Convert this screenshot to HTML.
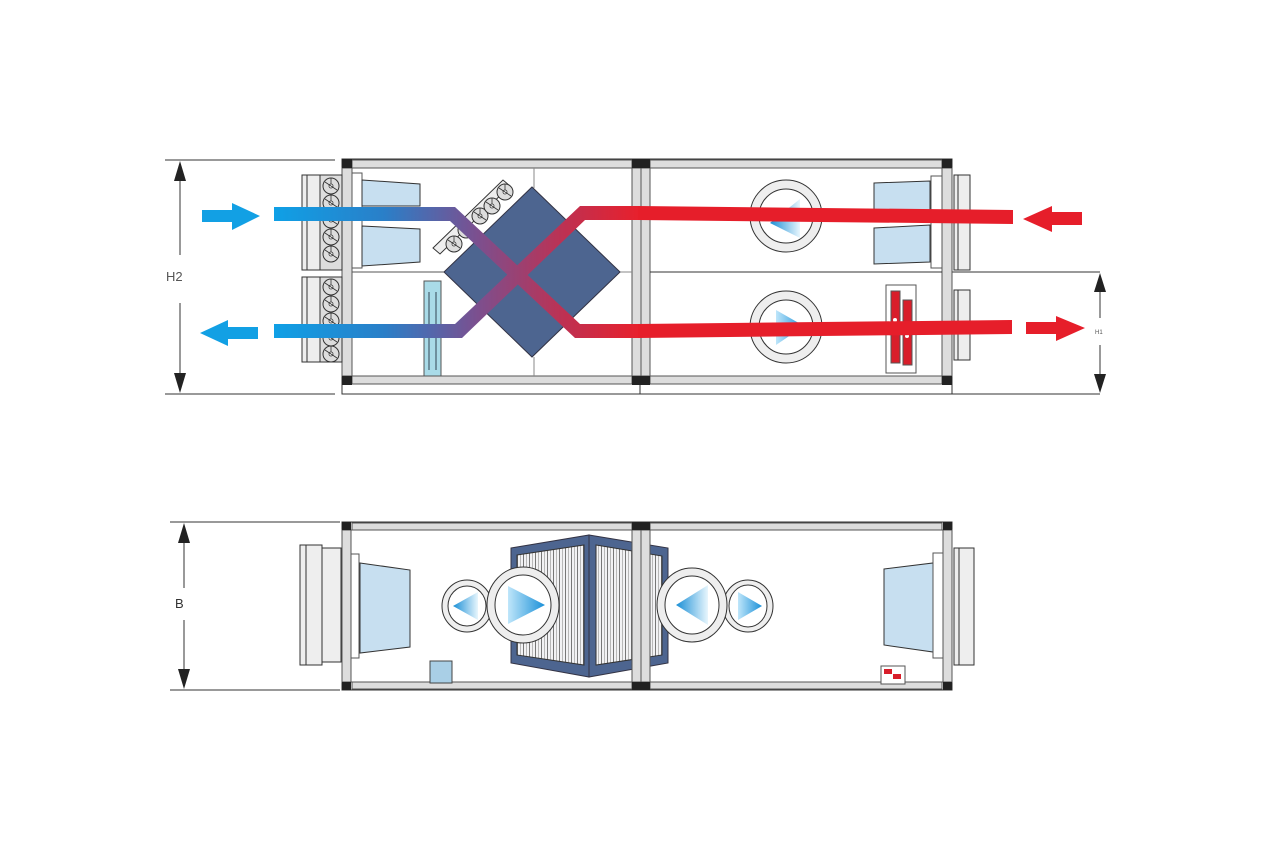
<!DOCTYPE html>
<html><head><meta charset="utf-8"><style>
html,body{margin:0;padding:0;background:#fff}
svg{display:block}
text{font-family:"Liberation Sans",sans-serif}
</style></head><body>
<svg width="1280" height="854" viewBox="0 0 1280 854" xmlns="http://www.w3.org/2000/svg">
<defs>
<linearGradient id="flow" x1="274" y1="0" x2="640" y2="0" gradientUnits="userSpaceOnUse">
<stop offset="0" stop-color="#0fa0e6"/><stop offset="0.3" stop-color="#2a7fc8"/>
<stop offset="0.55" stop-color="#7a5090"/><stop offset="0.8" stop-color="#c03050"/>
<stop offset="1" stop-color="#e8202c"/></linearGradient>
<linearGradient id="triR" x1="0" y1="0" x2="1" y2="0"><stop offset="0" stop-color="#bfe6fa"/><stop offset="1" stop-color="#1a90d8"/></linearGradient>
<linearGradient id="triL" x1="1" y1="0" x2="0" y2="0"><stop offset="0" stop-color="#e8f6fd"/><stop offset="1" stop-color="#1a8fd6"/></linearGradient>
<pattern id="stripes" width="6" height="10" patternUnits="userSpaceOnUse"><rect width="6" height="10" fill="#f2f2f4"/><rect x="1" width="1" height="10" fill="#777"/><rect x="4" width="0.8" height="10" fill="#aaa"/></pattern>
<g id="disc"><circle r="8" fill="#ddd" stroke="#333" stroke-width="1"/><circle r="2" fill="#fff" stroke="#333" stroke-width="0.8"/><path d="M-6,-4 L6,4 M0,-8 L0,-2" stroke="#333" stroke-width="0.8"/></g>
</defs>

<!-- ========== TOP UNIT ========== -->
<g stroke="#333" stroke-width="1">
<!-- dims H2 -->
<line x1="165" y1="160" x2="335" y2="160"/><line x1="165" y1="394" x2="335" y2="394"/>
<line x1="180" y1="180" x2="180" y2="255"/><line x1="180" y1="303" x2="180" y2="375"/>
<!-- dims H1 -->
<line x1="952" y1="272" x2="1100" y2="272"/><line x1="952" y1="394" x2="1100" y2="394"/>
<line x1="1100" y1="290" x2="1100" y2="318"/><line x1="1100" y1="345" x2="1100" y2="375"/>
</g>
<polygon points="180,161 174,181 186,181" fill="#222"/>
<polygon points="180,393 174,373 186,373" fill="#222"/>
<polygon points="1100,273 1094,292 1106,292" fill="#222"/>
<polygon points="1100,393 1094,374 1106,374" fill="#222"/>
<text x="166" y="281" font-size="13" fill="#555">H2</text>
<text x="1095" y="334" font-size="6" fill="#555">H1</text>

<!-- frame -->
<rect x="342" y="159" width="610" height="227" fill="#fff" stroke="#333"/>
<rect x="342" y="384" width="610" height="10" fill="#fff" stroke="#333"/>
<line x1="640" y1="384" x2="640" y2="394" stroke="#333"/>
<rect x="352" y="160" width="280" height="8" fill="#ddd" stroke="#555"/>
<rect x="650" y="160" width="292" height="8" fill="#ddd" stroke="#555"/>
<rect x="352" y="376" width="280" height="8" fill="#ddd" stroke="#555"/>
<rect x="650" y="376" width="292" height="8" fill="#ddd" stroke="#555"/>
<rect x="342" y="168" width="10" height="208" fill="#ddd" stroke="#555"/>
<rect x="942" y="168" width="10" height="208" fill="#ddd" stroke="#555"/>
<rect x="632" y="168" width="18" height="208" fill="#ddd" stroke="#555"/>
<line x1="641" y1="168" x2="641" y2="376" stroke="#555"/>
<line x1="352" y1="272" x2="632" y2="272" stroke="#555"/>
<line x1="650" y1="272" x2="942" y2="272" stroke="#333"/>
<line x1="534" y1="168" x2="534" y2="188" stroke="#888"/>
<line x1="534" y1="357" x2="534" y2="376" stroke="#888"/>
<line x1="620" y1="272" x2="632" y2="272" stroke="#888"/>
<g fill="#222">
<rect x="342" y="159" width="10" height="9"/><rect x="632" y="159" width="18" height="9"/><rect x="942" y="159" width="10" height="9"/>
<rect x="342" y="376" width="10" height="9"/><rect x="632" y="376" width="18" height="9"/><rect x="942" y="376" width="10" height="9"/>
</g>

<!-- left ducts -->
<g stroke="#333" fill="#eee">
<rect x="302" y="175" width="18" height="95"/><line x1="307" y1="175" x2="307" y2="270"/>
<rect x="302" y="277" width="18" height="85"/><line x1="307" y1="277" x2="307" y2="362"/>
<rect x="320" y="175" width="22" height="95" fill="#ddd"/>
<rect x="320" y="277" width="22" height="85" fill="#ddd"/>
</g>
<g transform="translate(331,0)">
<use href="#disc" y="186"/><use href="#disc" y="203"/><use href="#disc" y="220"/><use href="#disc" y="237"/><use href="#disc" y="254"/>
<use href="#disc" y="287"/><use href="#disc" y="304"/><use href="#disc" y="321"/><use href="#disc" y="338"/><use href="#disc" y="354"/>
</g>
<!-- left flange & filters -->
<rect x="352" y="173" width="10" height="95" fill="#fff" stroke="#555"/>
<polygon points="362,180 420,184 420,206 362,206" fill="#c7dff0" stroke="#333"/>
<polygon points="362,226 420,229 420,262 362,266" fill="#c7dff0" stroke="#333"/>
<rect x="424" y="281" width="17" height="95" fill="#a9dbe8" stroke="#555"/>
<line x1="429" y1="292" x2="429" y2="370" stroke="#345"/><line x1="436" y1="292" x2="436" y2="370" stroke="#345"/>

<!-- diamond -->
<polygon points="532,187 620,272 532,357 444,272" fill="#4d6590" stroke="#334"/>
<!-- filter bank -->
<polygon points="433,248 503,180 510,186 440,254" fill="#eee" stroke="#333"/>
<g transform="translate(0,0)">
<use href="#disc" x="454" y="244"/><use href="#disc" x="466" y="230"/><use href="#disc" x="480" y="216"/><use href="#disc" x="492" y="206"/><use href="#disc" x="505" y="192"/>
</g>

<!-- right filters/ducts -->
<polygon points="874,183 930,181 930,210 874,210" fill="#c7dff0" stroke="#333"/>
<polygon points="874,228 930,225 930,262 874,264" fill="#c7dff0" stroke="#333"/>
<rect x="931" y="176" width="11" height="92" fill="#fff" stroke="#555"/>
<rect x="954" y="175" width="16" height="95" fill="#eee" stroke="#333"/><line x1="958" y1="175" x2="958" y2="270" stroke="#333"/>
<rect x="954" y="290" width="16" height="70" fill="#eee" stroke="#333"/><line x1="958" y1="290" x2="958" y2="360" stroke="#333"/>

<!-- fans top -->
<g stroke="#333">
<circle cx="786" cy="216" r="36" fill="#eee"/><circle cx="786" cy="216" r="27" fill="#fff"/>
<circle cx="786" cy="327" r="36" fill="#eee"/><circle cx="786" cy="327" r="27" fill="#fff"/>
</g>
<polygon points="770,223 800,199 800,238" fill="url(#triL)"/>
<polygon points="776,310 776,345 804,326" fill="url(#triR)"/>
<!-- damper -->
<rect x="886" y="285" width="30" height="88" fill="#fff" stroke="#555"/>
<rect x="891" y="291" width="9" height="72" fill="#d81e2a" stroke="#555"/>
<rect x="903" y="300" width="9" height="65" fill="#d81e2a" stroke="#555"/>
<circle cx="895" cy="320" r="2" fill="#fff"/><circle cx="907" cy="336" r="2" fill="#fff"/>

<!-- flows -->
<path d="M274,207 L455,207 L580,324 L640,324 L640,338 L575,338 L450,221 L274,221 Z" fill="url(#flow)"/>
<path d="M274,324 L455,324 L580,206 L640,206 L640,220 L585,220 L462,338 L274,338 Z" fill="url(#flow)"/>
<polygon points="638,206 1013,210 1013,224 638,220" fill="#e61e2a"/>
<polygon points="638,324 1012,320 1012,334 638,338" fill="#e61e2a"/>
<!-- outside arrows -->
<polygon points="202,210 232,210 232,203 260,216 232,230 232,222 202,222" fill="#12a0e4"/>
<polygon points="258,327 228,327 228,320 200,333 228,346 228,339 258,339" fill="#12a0e4"/>
<polygon points="1082,212 1052,212 1052,206 1023,219 1052,232 1052,225 1082,225" fill="#e61e2a"/>
<polygon points="1026,322 1056,322 1056,316 1085,328 1056,341 1056,334 1026,334" fill="#e61e2a"/>

<!-- ========== BOTTOM UNIT ========== -->
<g stroke="#333">
<line x1="170" y1="522" x2="340" y2="522"/><line x1="170" y1="690" x2="340" y2="690"/>
<line x1="184" y1="540" x2="184" y2="588"/><line x1="184" y1="620" x2="184" y2="672"/>
</g>
<polygon points="184,523 178,543 190,543" fill="#222"/>
<polygon points="184,689 178,669 190,669" fill="#222"/>
<text x="175" y="608" font-size="13" fill="#333">B</text>

<rect x="342" y="522" width="610" height="168" fill="#fff" stroke="#333"/>
<rect x="352" y="523" width="280" height="7" fill="#ddd" stroke="#555"/>
<rect x="650" y="523" width="292" height="7" fill="#ddd" stroke="#555"/>
<rect x="352" y="682" width="280" height="7" fill="#ddd" stroke="#555"/>
<rect x="650" y="682" width="292" height="7" fill="#ddd" stroke="#555"/>
<rect x="342" y="530" width="9" height="152" fill="#ddd" stroke="#555"/>
<rect x="943" y="530" width="9" height="152" fill="#ddd" stroke="#555"/>

<!-- left duct -->
<rect x="300" y="545" width="22" height="120" fill="#eee" stroke="#333"/><line x1="306" y1="545" x2="306" y2="665" stroke="#333"/>
<rect x="322" y="548" width="19" height="114" fill="#eee" stroke="#333"/>
<rect x="351" y="554" width="8" height="104" fill="#fff" stroke="#555"/>
<polygon points="360,563 410,570 410,647 360,653" fill="#c7dff0" stroke="#333"/>
<rect x="430" y="661" width="22" height="22" fill="#a9cfe6" stroke="#444"/>

<!-- cube -->
<polygon points="511,548 589,535 589,677 511,663" fill="#4d6590" stroke="#334"/>
<polygon points="589,535 668,548 668,663 589,677" fill="#4d6590" stroke="#334"/>
<polygon points="517,555 584,545 584,665 517,655" fill="url(#stripes)" stroke="#333"/>
<polygon points="596,545 662,556 662,655 596,665" fill="url(#stripes)" stroke="#333"/>

<!-- divider post -->
<rect x="632" y="530" width="18" height="152" fill="#ddd" stroke="#555"/>
<line x1="641" y1="530" x2="641" y2="682" stroke="#555"/>
<g fill="#222">
<rect x="342" y="522" width="9" height="8"/><rect x="632" y="522" width="18" height="8"/><rect x="943" y="522" width="9" height="8"/>
<rect x="342" y="682" width="9" height="8"/><rect x="632" y="682" width="18" height="8"/><rect x="943" y="682" width="9" height="8"/>
</g>

<!-- fans bottom -->
<g stroke="#333">
<ellipse cx="467" cy="606" rx="25" ry="26" fill="#eee"/><ellipse cx="467" cy="606" rx="19" ry="20" fill="#fff"/>
<ellipse cx="523" cy="605" rx="36" ry="38" fill="#eee"/><ellipse cx="523" cy="605" rx="28" ry="30" fill="#fff"/>
<ellipse cx="748" cy="606" rx="25" ry="26" fill="#eee"/><ellipse cx="748" cy="606" rx="19" ry="21" fill="#fff"/>
<ellipse cx="692" cy="605" rx="35" ry="37" fill="#eee"/><ellipse cx="692" cy="605" rx="27" ry="29" fill="#fff"/>
</g>
<polygon points="453,606 478,592 478,620" fill="url(#triL)"/>
<polygon points="508,586 508,624 545,605" fill="url(#triR)"/>
<polygon points="676,605 708,585 708,625" fill="url(#triL)"/>
<polygon points="738,592 738,620 762,606" fill="url(#triR)"/>

<!-- right side -->
<polygon points="884,569 933,563 933,652 884,645" fill="#c7dff0" stroke="#333"/>
<rect x="933" y="553" width="10" height="105" fill="#fff" stroke="#555"/>
<rect x="954" y="548" width="20" height="117" fill="#eee" stroke="#333"/><line x1="959" y1="548" x2="959" y2="665" stroke="#333"/>
<rect x="881" y="666" width="24" height="18" fill="#fff" stroke="#555"/>
<rect x="884" y="669" width="8" height="5" fill="#d81e2a"/><rect x="893" y="674" width="8" height="5" fill="#d81e2a"/>
</svg>
</body></html>
